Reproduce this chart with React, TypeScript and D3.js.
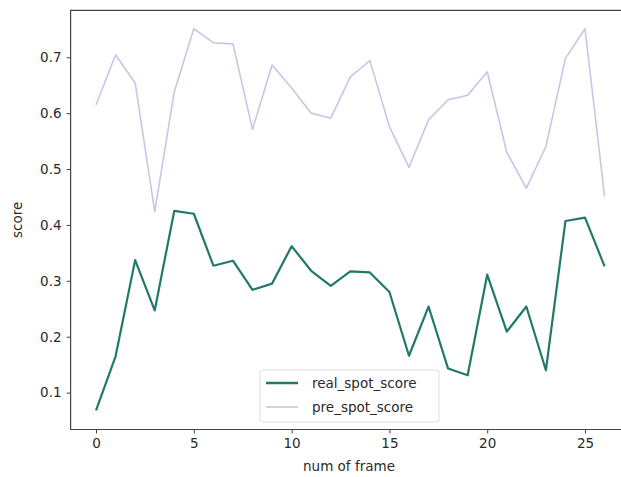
import { useEffect, useRef } from 'react';
import * as d3 from 'd3';

// frame index 0..26
const frames: number[] = d3.range(0, 27);

const realSpotScore: number[] = [
  0.068, 0.165, 0.337, 0.247, 0.425, 0.42, 0.327, 0.336, 0.284, 0.295,
  0.362, 0.318, 0.291, 0.317, 0.315, 0.28, 0.166, 0.254, 0.143, 0.131,
  0.311, 0.209, 0.254, 0.14, 0.407, 0.413, 0.326,
];

const preSpotScore: number[] = [
  0.615, 0.704, 0.654, 0.424, 0.638, 0.751, 0.726, 0.724, 0.571, 0.686,
  0.645, 0.6, 0.591, 0.665, 0.694, 0.576, 0.503, 0.588, 0.624, 0.632,
  0.674, 0.53, 0.466, 0.54, 0.698, 0.751, 0.451,
];

const xTicks: number[] = [0, 5, 10, 15, 20, 25];
const yTicks: number[] = [0.1, 0.2, 0.3, 0.4, 0.5, 0.6, 0.7];

const seriesNames = ['real_spot_score', 'pre_spot_score'];
const seriesColors = ['#22786a', '#cbc4e8'];

function App() {
  const svgRef = useRef<SVGSVGElement>(null);

  useEffect(() => {
    const svg = d3.select(svgRef.current);
    svg.selectAll('*').remove();

    const font = 'DejaVu Sans, sans-serif';
    const left = 70.6, right = 630, top = 10.3, bottom = 429.5;

    const x = d3.scaleLinear().domain([-1.3, 27.3]).range([left, right]);
    const y = d3.scaleLinear().domain([0.034, 0.784]).range([bottom, top]);

    // lines, pre first so real sits on top
    const allSeries = [realSpotScore, preSpotScore];
    [1, 0].forEach(k => {
      const line = d3.line<number>()
        .x((d, i) => x(frames[i]))
        .y(d => y(d));
      svg.append('path')
        .datum(allSeries[k])
        .attr('fill', 'none')
        .attr('stroke', seriesColors[k])
        .attr('stroke-width', k === 0 ? 2.2 : 1.6)
        .attr('stroke-linejoin', 'round')
        .attr('d', line);
    });

    // spines (right one falls outside the picture)
    svg.append('path')
      .attr('d', `M${right},${top}H${left}V${bottom}H${right}`)
      .attr('fill', 'none')
      .attr('stroke', '#444')
      .attr('stroke-width', 1.2);

    const xAxis = svg.append('g')
      .attr('transform', `translate(0,${bottom})`)
      .call(d3.axisBottom(x).tickValues(xTicks).tickSize(4).tickPadding(5).tickFormat(d3.format('d')));
    xAxis.select('.domain').remove();

    const yAxis = svg.append('g')
      .attr('transform', `translate(${left},0)`)
      .call(d3.axisLeft(y).tickValues(yTicks).tickSize(4).tickPadding(5).tickFormat(d3.format('.1f')));
    yAxis.select('.domain').remove();

    [xAxis, yAxis].forEach(g => {
      g.selectAll('line').attr('stroke', '#444');
      g.selectAll('text')
        .attr('fill', '#2a2a2a')
        .style('font-family', font)
        .style('font-size', '13.5px');
    });

    svg.append('text')
      .attr('x', 349)
      .attr('y', 471)
      .attr('text-anchor', 'middle')
      .attr('fill', '#2a2a2a')
      .style('font-family', font)
      .style('font-size', '13.5px')
      .text('num of frame');

    svg.append('text')
      .attr('transform', `translate(22,${(top + bottom) / 2}) rotate(-90)`)
      .attr('text-anchor', 'middle')
      .attr('fill', '#2a2a2a')
      .style('font-family', font)
      .style('font-size', '13.5px')
      .text('score');

    // legend
    const lg = svg.append('g').attr('transform', 'translate(260,370)');
    lg.append('rect')
      .attr('width', 179).attr('height', 52).attr('rx', 3)
      .attr('fill', 'white').attr('fill-opacity', 0.85)
      .attr('stroke', '#ddd');
    seriesNames.forEach((name, i) => {
      const cy = 13 + i * 24;
      lg.append('line')
        .attr('x1', 6).attr('x2', 38).attr('y1', cy).attr('y2', cy)
        .attr('stroke', seriesColors[i])
        .attr('stroke-width', i === 0 ? 2.5 : 1.6);
      lg.append('text')
        .attr('x', 52).attr('y', cy + 5)
        .attr('fill', '#2a2a2a')
        .style('font-family', font)
        .style('font-size', '13.5px')
        .text(name);
    });
  }, []);

  return (
    <svg ref={svgRef} width={621} height={477}
      style={{ position: 'absolute', left: 0, top: 0, background: 'white' }} />
  );
}

export default App;
